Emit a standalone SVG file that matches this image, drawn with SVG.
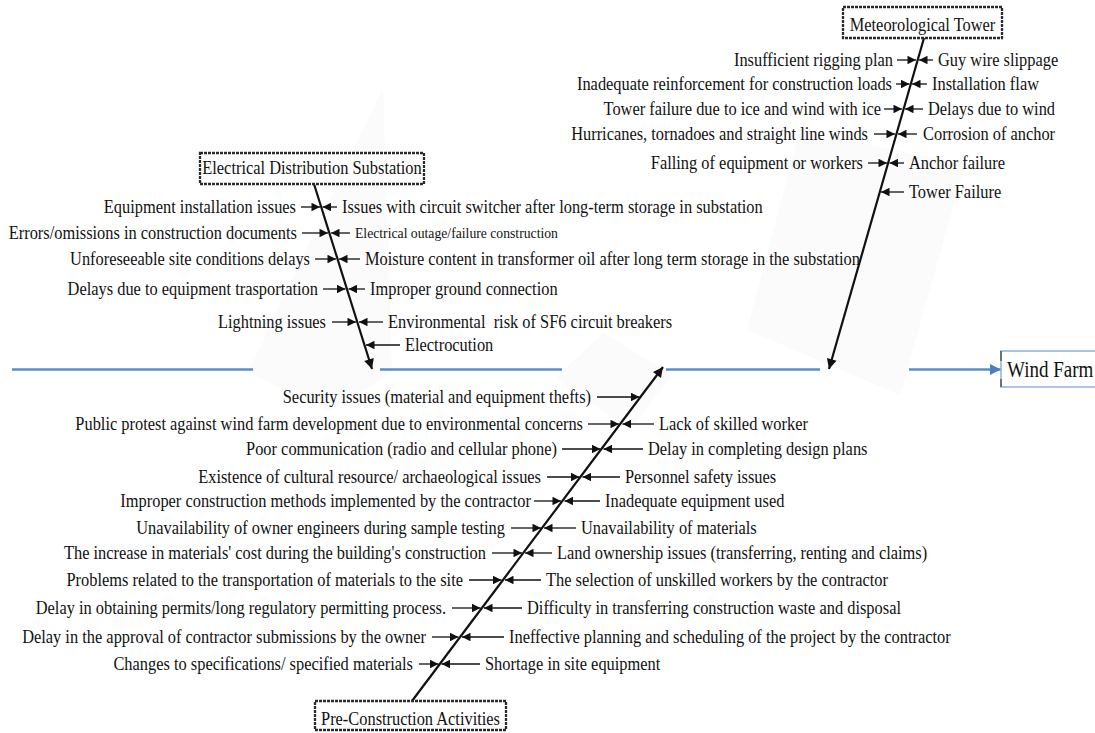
<svg xmlns="http://www.w3.org/2000/svg" width="1095" height="733" viewBox="0 0 1095 733">
<defs>
<style>
.t{font-family:"Liberation Serif","Times New Roman",serif;font-size:16.4px;fill:#111}
.e{text-anchor:end}
.m{text-anchor:middle}
.bone{stroke:#111;stroke-width:2.2;fill:none;marker-end:url(#big)}
.cn{stroke:#111;stroke-width:1.3;fill:none;marker-end:url(#a)}
.spine{stroke:#5b8ec8;stroke-width:2.5;fill:none}
.box{fill:#fff;stroke:#2a2a2a;stroke-width:2.3;stroke-dasharray:3 1}
.faint{fill:#fbfbfb;stroke:none}
</style>
<marker id="a" viewBox="0 0 10 10" refX="10" refY="5" markerWidth="9" markerHeight="8.5" markerUnits="userSpaceOnUse" orient="auto"><path d="M0,0 L10,5 L0,10 z" fill="#111"/></marker>
<marker id="big" viewBox="0 0 10 10" refX="10" refY="5" markerWidth="11" markerHeight="10" markerUnits="userSpaceOnUse" orient="auto"><path d="M0,0 L10,5 L0,10 z" fill="#111"/></marker>
<marker id="blue" viewBox="0 0 10 10" refX="10" refY="5" markerWidth="11" markerHeight="12" markerUnits="userSpaceOnUse" orient="auto"><path d="M0,0 L10,5 L0,10 z" fill="#4a7fc0"/></marker>
</defs>
<rect width="1095" height="733" fill="#fff"/>
<g id="background">
<polygon class="faint" points="383,88 392,372 330,412 248,372"/>
<polygon class="faint" points="603,333 672,374 630,430 556,378"/>
<polygon class="faint" points="800,130 965,165 900,395 747,330"/>
</g>
<g id="connectors">
<g id="spine">
<line class="spine" x1="12" y1="369.5" x2="253" y2="369.5"/>
<line class="spine" x1="380" y1="369.5" x2="562" y2="369.5"/>
<line class="spine" x1="666" y1="369.5" x2="820" y2="369.5"/>
<line class="spine" x1="909" y1="369.5" x2="1001" y2="369.5" marker-end="url(#blue)"/>
</g>
<path class="bone" d="M314,184 L372,369"/>
<path class="bone" d="M924,38 L829,369"/>
<path class="bone" d="M412,701 L663,367"/>
<!-- Meteorological tower causes -->
<path class="cn" d="M897,60 L916,60"/><path class="cn" d="M933,60 L919,60"/>
<path class="cn" d="M896,84 L909.5,84"/><path class="cn" d="M927,84 L912,84"/>
<path class="cn" d="M884,109 L902,109"/><path class="cn" d="M923,109 L905,109"/>
<path class="cn" d="M874,134 L895,134"/><path class="cn" d="M917,134 L898,134"/>
<path class="cn" d="M868,163 L887,163"/><path class="cn" d="M904,163 L889.5,163"/>
<path class="cn" d="M904,192 L881,192"/>
<!-- Substation causes -->
<path class="cn" d="M301,207 L320,207"/><path class="cn" d="M337,207 L322.5,207"/>
<path class="cn" d="M302,233 L328,233"/><path class="cn" d="M350,233 L331,233"/>
<path class="cn" d="M315,259 L336,259"/><path class="cn" d="M360,259 L339,259"/>
<path class="cn" d="M323,289 L345.5,289"/><path class="cn" d="M365,289 L348.5,289"/>
<path class="cn" d="M332,322 L356,322"/><path class="cn" d="M383,322 L359,322"/>
<path class="cn" d="M400,345 L366,345"/>
<!-- Pre-construction causes -->
<path class="cn" d="M597,397 L639.5,397"/>
<path class="cn" d="M588,424 L619,424"/><path class="cn" d="M654,424 L622.5,424"/>
<path class="cn" d="M562,449 L600.5,449"/><path class="cn" d="M643,449 L603.5,449"/>
<path class="cn" d="M547,477 L579.5,477"/><path class="cn" d="M620,477 L582.5,477"/>
<path class="cn" d="M534,501 L561,501"/><path class="cn" d="M600,501 L564.5,501"/>
<path class="cn" d="M511,528 L541,528"/><path class="cn" d="M576,528 L544,528"/>
<path class="cn" d="M492,553 L522,553"/><path class="cn" d="M552,553 L525,553"/>
<path class="cn" d="M469,580 L501.5,580"/><path class="cn" d="M541,580 L505,580"/>
<path class="cn" d="M452,608 L480.5,608"/><path class="cn" d="M522,608 L484,608"/>
<path class="cn" d="M432,637 L458.5,637"/><path class="cn" d="M504,637 L462,637"/>
<path class="cn" d="M419,664 L438.5,664"/><path class="cn" d="M480,664 L441.5,664"/>
</g>
<g id="met-tower">
<rect class="box" x="843" y="7" width="159" height="31"/>
<text class="t m" transform="translate(922.5 31) scale(1 1.2)">Meteorological Tower</text>
<text class="t e" transform="translate(893 66) scale(1 1.2)">Insufficient rigging plan</text>
<text class="t" transform="translate(938 66) scale(1 1.2)">Guy wire slippage</text>
<text class="t e" transform="translate(892 90) scale(1 1.2)">Inadequate reinforcement for construction loads</text>
<text class="t" transform="translate(932 90) scale(1 1.2)">Installation flaw</text>
<text class="t e" transform="translate(881 115) scale(1 1.2)">Tower failure due to ice and wind with ice</text>
<text class="t" transform="translate(928 115) scale(1 1.2)">Delays due to wind</text>
<text class="t e" transform="translate(868 140) scale(1 1.2)">Hurricanes, tornadoes and straight line winds</text>
<text class="t" transform="translate(923 140) scale(1 1.2)">Corrosion of anchor</text>
<text class="t e" transform="translate(863 169) scale(1 1.2)">Falling of equipment or workers</text>
<text class="t" transform="translate(909 169) scale(1 1.2)">Anchor failure</text>
<text class="t" transform="translate(909 198) scale(1 1.2)">Tower Failure</text>
</g>
<g id="substation">
<rect class="box" x="200" y="153" width="224" height="31"/>
<text class="t m" transform="translate(312 174) scale(1 1.2)">Electrical Distribution Substation</text>
<text class="t e" transform="translate(296 213) scale(1 1.2)">Equipment installation issues</text>
<text class="t" transform="translate(342 213) scale(1 1.2)">Issues with circuit switcher after long-term storage in substation</text>
<text class="t e" transform="translate(297 239) scale(1 1.2)">Errors/omissions in construction documents</text>
<text class="t" style="font-size:13.7px" transform="translate(355 237.5)">Electrical outage/failure construction</text>
<text class="t e" transform="translate(310 265) scale(1 1.2)">Unforeseeable site conditions delays</text>
<text class="t" transform="translate(365 265) scale(1 1.2)">Moisture content in transformer oil after long term storage in the substation</text>
<text class="t e" transform="translate(318 295) scale(1 1.2)">Delays due to equipment trasportation</text>
<text class="t" transform="translate(370 295) scale(1 1.2)">Improper ground connection</text>
<text class="t e" transform="translate(326 328) scale(1 1.2)">Lightning issues</text>
<text class="t" style="white-space:pre" transform="translate(388 328) scale(1 1.2)">Environmental  risk of SF6 circuit breakers</text>
<text class="t" transform="translate(405 351) scale(1 1.2)">Electrocution</text>
</g>
<g id="pre-construction">
<rect class="box" x="315" y="701" width="191" height="29"/>
<text class="t m" transform="translate(410.5 725) scale(1 1.2)">Pre-Construction Activities</text>
<text class="t e" transform="translate(591 403) scale(1 1.2)">Security issues (material and equipment thefts)</text>
<text class="t e" transform="translate(583 430) scale(1 1.2)">Public protest against wind farm development due to environmental concerns</text>
<text class="t" transform="translate(659 430) scale(1 1.2)">Lack of skilled worker</text>
<text class="t e" transform="translate(557 455) scale(1 1.2)">Poor communication (radio and cellular phone)</text>
<text class="t" transform="translate(648 455) scale(1 1.2)">Delay in completing design plans</text>
<text class="t e" transform="translate(541 483) scale(1 1.2)">Existence of cultural resource/ archaeological issues</text>
<text class="t" transform="translate(625 483) scale(1 1.2)">Personnel safety issues</text>
<text class="t e" transform="translate(531 507) scale(1 1.2)">Improper construction methods implemented by the contractor</text>
<text class="t" transform="translate(605 507) scale(1 1.2)">Inadequate equipment used</text>
<text class="t e" transform="translate(505 534) scale(1 1.2)">Unavailability of owner engineers during sample testing</text>
<text class="t" transform="translate(581 534) scale(1 1.2)">Unavailability of materials</text>
<text class="t e" transform="translate(486 559) scale(1 1.2)">The increase in materials' cost during the building's construction</text>
<text class="t" transform="translate(557 559) scale(1 1.2)">Land ownership issues (transferring, renting and claims)</text>
<text class="t e" transform="translate(463 586) scale(1 1.2)">Problems related to the transportation of materials to the site</text>
<text class="t" transform="translate(546 586) scale(1 1.2)">The selection of unskilled workers by the contractor</text>
<text class="t e" transform="translate(446 614) scale(1 1.2)">Delay in obtaining permits/long regulatory permitting process.</text>
<text class="t" transform="translate(527 614) scale(1 1.2)">Difficulty in transferring construction waste and disposal</text>
<text class="t e" transform="translate(426 643) scale(1 1.2)">Delay in the approval of contractor submissions by the owner</text>
<text class="t" transform="translate(509 643) scale(1 1.2)">Ineffective planning and scheduling of the project by the contractor</text>
<text class="t e" transform="translate(413 670) scale(1 1.2)">Changes to specifications/ specified materials</text>
<text class="t" transform="translate(485 670) scale(1 1.2)">Shortage in site equipment</text>
</g>
<g id="wind-farm">
<rect x="1001" y="351" width="110" height="36" fill="#fff" stroke="#8fb2da" stroke-width="1.5"/>
<line x1="1001" y1="351" x2="1001" y2="361" stroke="#555" stroke-width="1.5"/>
<line x1="1001" y1="379" x2="1001" y2="387" stroke="#555" stroke-width="1.5"/>
<text class="t" style="font-size:19px" transform="translate(1007 377) scale(1 1.2)">Wind Farm</text>
</g>
</svg>
